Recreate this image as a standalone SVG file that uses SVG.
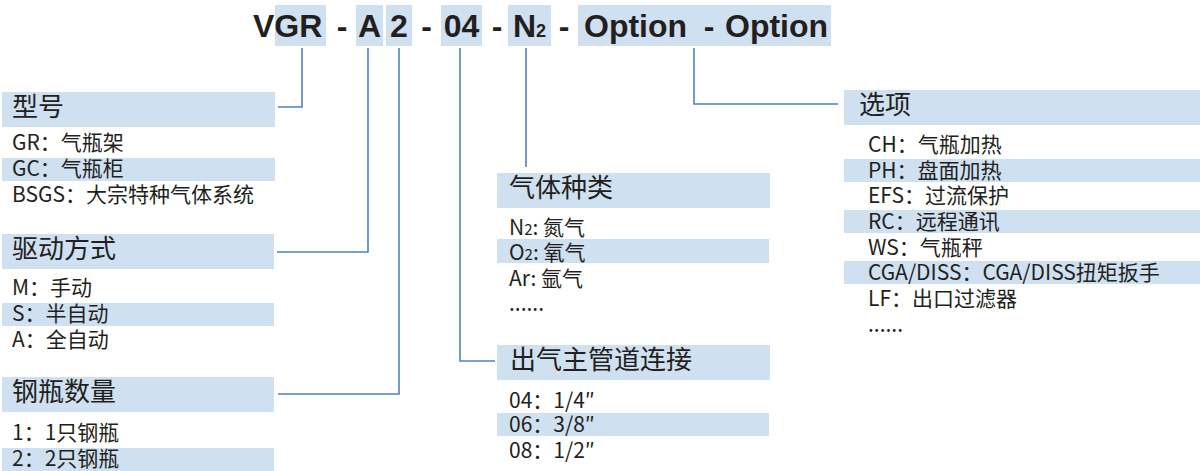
<svg xmlns="http://www.w3.org/2000/svg" width="1200" height="471" viewBox="0 0 1200 471">
<style>
.hl{fill:#cfe0f1}
.code{font-family:"Liberation Sans",Arial,sans-serif;font-weight:bold;font-size:32px;fill:#231f20}
.hd{font-family:"Noto Sans CJK SC","Noto Sans",sans-serif;font-size:26px;fill:#231f20}
.it{font-family:"Noto Sans CJK SC","Noto Sans",sans-serif;font-size:21px;fill:#231f20}
.sm{font-size:15px}
.ln{fill:none;stroke:#4f81bd;stroke-width:1.6}
</style>
<rect width="1200" height="471" fill="#ffffff"/>
<g id="code">
<rect class="hl" x="275" y="5" width="51" height="41"/>
<rect class="hl" x="356" y="5" width="27" height="41"/>
<rect class="hl" x="386" y="5" width="26" height="41"/>
<rect class="hl" x="441" y="5" width="41" height="41"/>
<rect class="hl" x="508" y="5" width="43" height="41"/>
<rect class="hl" x="578" y="5" width="253" height="41"/>
<text class="code" x="253" y="37">VGR</text>
<text class="code" x="342" y="37" text-anchor="middle">-</text>
<text class="code" x="369.5" y="37" text-anchor="middle">A</text>
<text class="code" x="399" y="37" text-anchor="middle">2</text>
<text class="code" x="426.5" y="37" text-anchor="middle">-</text>
<text class="code" x="461.5" y="37" text-anchor="middle">04</text>
<text class="code" x="497" y="37" text-anchor="middle">-</text>
<text class="code" x="513" y="37">N<tspan font-size="18">2</tspan></text>
<text class="code" x="564" y="37" text-anchor="middle">-</text>
<text class="code" x="584" y="37">Option</text>
<text class="code" x="709" y="37" text-anchor="middle">-</text>
<text class="code" x="725" y="37">Option</text>
</g>
<g id="connectors">
<polyline class="ln" points="302,48 302,107 278,107"/>
<polyline class="ln" points="368,48 368,252 277,252"/>
<polyline class="ln" points="399,48 399,394 278,394"/>
<polyline class="ln" points="460,48 460,361 495,361"/>
<polyline class="ln" points="526,48 526,167"/>
<polyline class="ln" points="694,48 694,104 838,104"/>
</g>
<g id="node-model">
<rect class="hl" x="2" y="92" width="273" height="35"/>
<text class="hd" x="12" y="116">型号</text>
<text class="it" x="12" y="150">GR：气瓶架</text>
<rect class="hl" x="2" y="158" width="273" height="23"/>
<text class="it" x="12" y="176">GC：气瓶柜</text>
<text class="it" x="12" y="202">BSGS：大宗特种气体系统</text>
</g>
<g id="node-drive">
<rect class="hl" x="2" y="234" width="272" height="35"/>
<text class="hd" x="12" y="258">驱动方式</text>
<text class="it" x="12" y="295">M：手动</text>
<rect class="hl" x="2" y="303" width="272" height="23"/>
<text class="it" x="12" y="321">S：半自动</text>
<text class="it" x="12" y="347">A：全自动</text>
</g>
<g id="node-bottles">
<rect class="hl" x="2" y="377" width="272" height="35"/>
<text class="hd" x="12" y="401">钢瓶数量</text>
<text class="it" x="12" y="440">1：1只钢瓶</text>
<rect class="hl" x="2" y="448" width="272" height="23"/>
<text class="it" x="12" y="466">2：2只钢瓶</text>
</g>
<g id="node-gas">
<rect class="hl" x="497" y="173" width="273" height="35"/>
<text class="hd" x="509" y="197">气体种类</text>
<text class="it" x="509" y="235">N<tspan class="sm">2</tspan>: 氮气</text>
<rect class="hl" x="497" y="239" width="272" height="24"/>
<text class="it" x="509" y="260">O<tspan class="sm">2</tspan>: 氧气</text>
<text class="it" x="509" y="286">Ar: 氩气</text>
<text class="it" x="509" y="311">......</text>
</g>
<g id="node-outlet">
<rect class="hl" x="497" y="345" width="273" height="35"/>
<text class="hd" x="510" y="369">出气主管道连接</text>
<text class="it" x="509" y="408">04：1/4″</text>
<rect class="hl" x="497" y="413" width="272" height="23"/>
<text class="it" x="509" y="432">06：3/8″</text>
<text class="it" x="509" y="458">08：1/2″</text>
</g>
<g id="node-options">
<rect class="hl" x="844" y="90" width="356" height="35"/>
<text class="hd" x="859" y="114">选项</text>
<text class="it" x="868" y="152">CH：气瓶加热</text>
<rect class="hl" x="844" y="159" width="356" height="23"/>
<text class="it" x="868" y="178">PH：盘面加热</text>
<text class="it" x="868" y="203">EFS：过流保护</text>
<rect class="hl" x="844" y="210" width="356" height="23"/>
<text class="it" x="868" y="229">RC：远程通讯</text>
<text class="it" x="868" y="255">WS：气瓶秤</text>
<rect class="hl" x="844" y="261" width="356" height="23"/>
<text class="it" x="868" y="280">CGA/DISS：CGA/DISS扭矩扳手</text>
<text class="it" x="868" y="306">LF：出口过滤器</text>
<text class="it" x="868" y="332">......</text>
</g>
</svg>
